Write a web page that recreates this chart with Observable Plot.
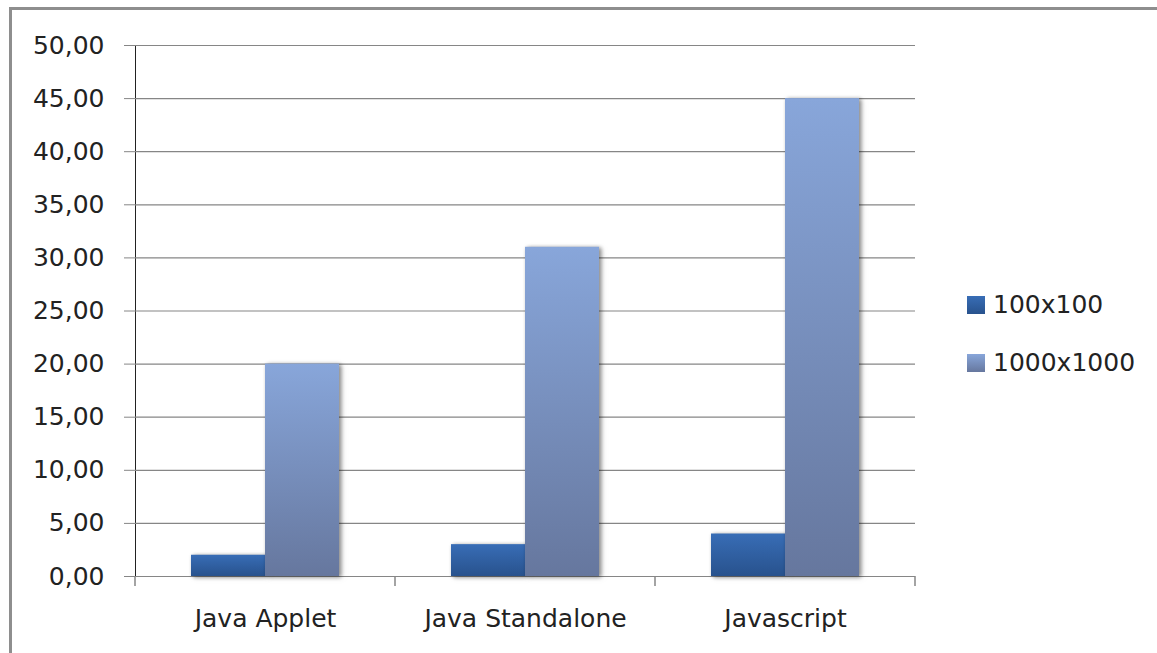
<!DOCTYPE html>
<html>
<head>
<meta charset="utf-8">
<script src="https://cdn.jsdelivr.net/npm/d3@7"></script>
<script src="https://cdn.jsdelivr.net/npm/@observablehq/plot@0.6"></script>
<style>
  html, body { margin: 0; padding: 0; background: #fff; }
  #wrap { position: relative; width: 1157px; height: 653px; overflow: hidden; background: #fff; }
  #border { position: absolute; left: 9px; top: 7px; width: 1400px; height: 900px; border-left: 3px solid #8e8e8e; border-top: 3px solid #8e8e8e; box-sizing: border-box; }
  #chart { position: absolute; left: 0; top: 0; }
  .legend { position: absolute; left: 967px; font-family: "DejaVu Sans", sans-serif; font-size: 25px; color: #222; display: flex; align-items: center; }
  .legend .sw { width: 18px; height: 18px; margin-right: 8px; }
</style>
</head>
<body>
<div id="wrap">
  <div id="border"></div>
  <div id="chart"></div>
</div>
<script>
// ---- data ----
const categories = ["Java Applet", "Java Standalone", "Javascript"];
const seriesNames = ["100x100", "1000x1000"];
const values100 = [2, 3, 4];
const values1000 = [20, 31, 45];
const yTicks = [0, 5, 10, 15, 20, 25, 30, 35, 40, 45, 50];

const data = categories.flatMap((c, i) => [
  {cat: c, series: seriesNames[0], v: values100[i]},
  {cat: c, series: seriesNames[1], v: values1000[i]}
]);

const fmt = d => d.toFixed(2).replace(".", ",");

const chart = Plot.plot({
  width: 1157,
  height: 653,
  marginLeft: 134,
  marginRight: 242,
  marginTop: 45,
  marginBottom: 77,
  style: {fontFamily: "DejaVu Sans, sans-serif", fontSize: "25px", color: "#222", background: "transparent", overflow: "visible"},
  facet: {data, x: "cat"},
  fx: {domain: categories, padding: 0, label: null, tickSize: 0, tickPadding: 33},
  x: {domain: seriesNames, axis: null, paddingInner: 0, paddingOuter: 0.74},
  y: {domain: [0, 50], ticks: yTicks, tickFormat: fmt, tickSize: 11, tickPadding: 20, label: null, line: true},
  marks: [
    Plot.ruleY(yTicks, {stroke: "#868686", strokeWidth: 1.2}),
    Plot.barY(data, {filter: d => d.series === seriesNames[0], x: "series", y: "v", fill: "url(#gDark)"}),
    Plot.barY(data, {filter: d => d.series === seriesNames[1], x: "series", y: "v", fill: "url(#gLight)"})
  ]
});

document.getElementById("chart").appendChild(chart);

const svg = d3.select(chart);
// gradients and shadow
const defs = svg.insert("defs", ":first-child");
const g1 = defs.append("linearGradient").attr("id", "gDark").attr("x1", 0).attr("y1", 0).attr("x2", 0).attr("y2", 1);
g1.append("stop").attr("offset", "0%").attr("stop-color", "#386db6");
g1.append("stop").attr("offset", "100%").attr("stop-color", "#28528d");
const g2 = defs.append("linearGradient").attr("id", "gLight").attr("x1", 0).attr("y1", 0).attr("x2", 0).attr("y2", 1);
g2.append("stop").attr("offset", "0%").attr("stop-color", "#88a6da");
g2.append("stop").attr("offset", "100%").attr("stop-color", "#66779e");
svg.selectAll("rect").filter(function() { const f = this.getAttribute("fill") || (this.parentNode && this.parentNode.getAttribute("fill")) || ""; return f.startsWith("url("); })
  .style("filter", "drop-shadow(2px 1px 2px rgba(0,0,0,0.28))");
svg.selectAll("g[fill^='url(']").style("filter", "drop-shadow(2px 1px 2px rgba(0,0,0,0.28))");

// y axis line color and tick colors
svg.selectAll("[aria-label='y-axis'] path, [aria-label='y-axis tick'] path").attr("stroke", "#868686");
svg.selectAll("[aria-label='y-axis'] line").attr("stroke", "#868686");

// category boundary ticks from the fx scale
const fx = chart.scale("fx");
const y = chart.scale("y");
const y0 = y.apply(0);
const bounds = categories.map(c => fx.apply(c));
bounds.push(fx.apply(categories[categories.length - 1]) + fx.bandwidth);
svg.append("g").attr("stroke", "#868686").attr("stroke-width", 1.5)
  .selectAll("line").data(bounds).join("line")
  .attr("x1", d => d).attr("x2", d => d).attr("y1", y0).attr("y2", y0 + 10);

// legend
const wrap = document.getElementById("wrap");
const legendGrads = ["linear-gradient(#386db6, #28528d)", "linear-gradient(#88a6da, #66779e)"];
const legendTops = [290, 348];
seriesNames.forEach((s, i) => {
  const item = document.createElement("div");
  item.className = "legend";
  item.style.top = legendTops[i] + "px";
  const sw = document.createElement("div");
  sw.className = "sw";
  sw.style.background = legendGrads[i];
  const t = document.createElement("span");
  t.textContent = s;
  item.appendChild(sw);
  item.appendChild(t);
  wrap.appendChild(item);
});
</script>
</body>
</html>
